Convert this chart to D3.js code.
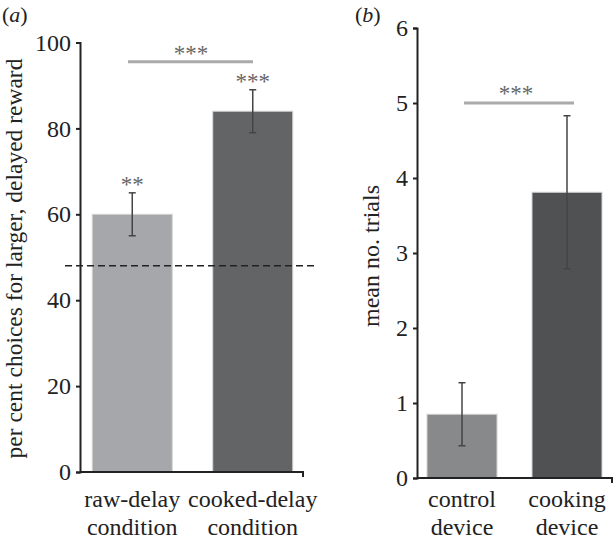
<!DOCTYPE html>
<html><head><meta charset="utf-8">
<script src="https://cdn.jsdelivr.net/npm/d3@7"></script>
<style>
html,body{margin:0;padding:0;background:#fff;}
svg{display:block;font-family:"Liberation Serif","Times New Roman",serif;}
</style></head>
<body>
<svg id="chart" width="614" height="541"></svg>
<script>
// Panel (a)
const catsA = ["raw-delay|condition", "cooked-delay|condition"];
const valsA = [60, 84];
const errA = [5, 5];
const colorsA = ["#a6a7aa", "#636466"];
const sigA = ["**", "***"];
const ticksA = [0, 20, 40, 60, 80, 100];
const chanceA = 48;
const bracketA = 95.5;

// Panel (b)
const catsB = ["control|device", "cooking|device"];
const valsB = [0.85, 3.81];
const errB = [0.42, 1.02];
const colorsB = ["#88898b", "#505153"];
const ticksB = [0, 1, 2, 3, 4, 5, 6];
const bracketB = 5;

const svg = d3.select("#chart");
const FS = 24;

function panel(opts) {
  const g = svg.append("g");
  const x = d3.scaleBand().domain(opts.cats).range(opts.xr).paddingInner(opts.pad).paddingOuter(opts.pad / 2);
  const y = d3.scaleLinear().domain(opts.yd).range(opts.yr);

  // bars
  g.selectAll("rect.bar").data(opts.cats).enter().append("rect")
    .attr("x", d => x(d)).attr("width", x.bandwidth())
    .attr("y", (d, i) => y(opts.vals[i]))
    .attr("height", (d, i) => y(0) - y(opts.vals[i]))
    .attr("fill", (d, i) => opts.colors[i])
    .attr("stroke", "#d4d4d4").attr("stroke-width", 1);

  // error bars
  opts.cats.forEach((d, i) => {
    const cx = x(d) + x.bandwidth() / 2;
    const hi = y(opts.vals[i] + opts.err[i]), lo = y(opts.vals[i] - opts.err[i]);
    g.append("line").attr("x1", cx).attr("x2", cx).attr("y1", hi).attr("y2", lo)
      .attr("stroke", "#444").attr("stroke-width", 1.5);
    [hi, lo].forEach(yy => g.append("line").attr("x1", cx - 3.5).attr("x2", cx + 3.5)
      .attr("y1", yy).attr("y2", yy).attr("stroke", "#444").attr("stroke-width", 1.5));
  });

  // y axis
  const ax = g.append("g").attr("transform", `translate(${opts.axX},0)`)
    .call(d3.axisLeft(y).tickValues(opts.ticks).tickSize(4).tickSizeOuter(4).tickPadding(5).tickFormat(d3.format("d")));
  ax.select(".domain").attr("stroke", "#222").attr("stroke-width", 2);
  ax.selectAll(".tick line").attr("stroke", "#222").attr("stroke-width", 2);
  ax.selectAll(".tick text").attr("font-size", FS).attr("fill", "#222")
    .attr("font-family", "Liberation Serif, serif");

  // x axis line
  g.append("path")
    .attr("d", `M${opts.axX},${y(0)}H${opts.axEnd}V${y(0) + 5}`)
    .attr("fill", "none").attr("stroke", "#222").attr("stroke-width", 2);

  // x labels
  opts.cats.forEach(d => {
    const cx = x(d) + x.bandwidth() / 2;
    d.split("|").forEach((t, j) => {
      g.append("text").attr("x", cx).attr("y", 507 + j * 28).attr("text-anchor", "middle")
        .attr("font-size", FS).attr("fill", "#222").text(t);
    });
  });

  // y label
  g.append("text").attr("transform", `translate(${opts.labX},${opts.labY}) rotate(-90)`)
    .attr("text-anchor", "middle").attr("font-size", opts.labFS).attr("fill", "#222").text(opts.ylabel);

  // panel letter
  const pl = g.append("text").attr("x", opts.letterX).attr("y", 22).attr("font-size", 22).attr("fill", "#222");
  pl.append("tspan").text("(");
  pl.append("tspan").attr("font-style", "italic").text(opts.letter);
  pl.append("tspan").text(")");

  return { g, x, y };
}

// Panel a
const A = panel({
  cats: catsA, vals: valsA, err: errA, colors: colorsA, ticks: ticksA,
  xr: [72, 313], pad: 0.336, yd: [0, 100], yr: [472, 42.5],
  axX: 80, axEnd: 303, labX: 21.5, labY: 258.5, labFS: 23.5,
  ylabel: "per cent choices for larger, delayed reward", letter: "a", letterX: 2
});
// chance line
A.g.append("line").attr("x1", 65).attr("x2", 318).attr("y1", A.y(chanceA)).attr("y2", A.y(chanceA))
  .attr("stroke", "#222").attr("stroke-width", 1.5).attr("stroke-dasharray", "7,4");
// bracket
A.g.append("line").attr("x1", 128).attr("x2", 253).attr("y1", A.y(bracketA)).attr("y2", A.y(bracketA))
  .attr("stroke", "#aaa").attr("stroke-width", 3);
A.g.append("text").attr("x", 191).attr("y", A.y(bracketA) - 1).attr("text-anchor", "middle")
  .attr("font-size", 23).attr("fill", "#666").text("***");
catsA.forEach((d, i) => {
  const cx = A.x(d) + A.x.bandwidth() / 2;
  A.g.append("text").attr("x", cx).attr("y", A.y(valsA[i] + errA[i]) - 1).attr("text-anchor", "middle")
    .attr("font-size", 23).attr("fill", "#666").text(sigA[i]);
});

// Panel b
const B = panel({
  cats: catsB, vals: valsB, err: errB, colors: colorsB, ticks: ticksB,
  xr: [409.5, 619.5], pad: 1 / 3, yd: [0, 6], yr: [478, 28],
  axX: 417, axEnd: 612, labX: 379, labY: 256, labFS: 24,
  ylabel: "mean no. trials", letter: "b", letterX: 355
});
B.g.append("line").attr("x1", 464).attr("x2", 574).attr("y1", B.y(bracketB)).attr("y2", B.y(bracketB))
  .attr("stroke", "#aaa").attr("stroke-width", 3);
B.g.append("text").attr("x", 516).attr("y", B.y(bracketB) - 2).attr("text-anchor", "middle")
  .attr("font-size", 23).attr("fill", "#666").text("***");
</script>
</body></html>
